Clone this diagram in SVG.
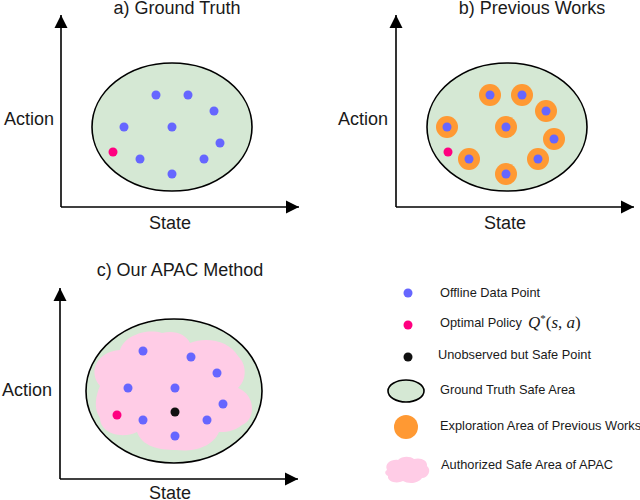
<svg xmlns="http://www.w3.org/2000/svg" width="640" height="500" viewBox="0 0 640 500">
<defs>
<style>
.t{font-family:"Liberation Sans",Arial,sans-serif;font-size:18px;fill:#1a1a1a}
.lg{font-family:"Liberation Sans",Arial,sans-serif;font-size:12.8px;fill:#1a1a1a}
.ax{stroke:#000;stroke-width:1.6;fill:none;marker-end:url(#ah)}
.gt{fill:#d5e8d4;stroke:#000;stroke-width:1.6}
.b{fill:#6666ff}
.r{fill:#ff0080}
.k{fill:#111}
.o{fill:#ff9933}
.p{fill:#ffcce6}
.m{font-family:"Liberation Serif","DejaVu Serif",serif;font-size:17px;fill:#1a1a1a}
</style>
<marker id="ah" markerUnits="userSpaceOnUse" markerWidth="14" markerHeight="14" refX="13" refY="6.5" orient="auto" viewBox="0 0 14 13">
<path d="M0,0 L13,6.5 L0,13 Z" fill="#000"/>
</marker>
</defs>

<g id="panel-a">
<text class="t" x="177" y="14" text-anchor="middle">a) Ground Truth</text>
<g id="axes-a">
<line class="ax" x1="61" y1="207" x2="61" y2="15"/>
<line class="ax" x1="61" y1="207" x2="299" y2="207"/>
</g>
<text class="t" x="29" y="125" text-anchor="middle">Action</text>
<text class="t" x="170" y="229" text-anchor="middle">State</text>
<ellipse class="gt" cx="172" cy="127" rx="80" ry="64"/>
<circle class="b" cx="156" cy="95" r="4.5"/>
<circle class="b" cx="188" cy="95" r="4.5"/>
<circle class="b" cx="214" cy="111" r="4.5"/>
<circle class="b" cx="124" cy="127" r="4.5"/>
<circle class="b" cx="172" cy="127" r="4.5"/>
<circle class="b" cx="220" cy="143" r="4.5"/>
<circle class="b" cx="140" cy="159" r="4.5"/>
<circle class="b" cx="204" cy="159" r="4.5"/>
<circle class="b" cx="172" cy="174" r="4.5"/>
<circle class="r" cx="113" cy="152" r="4.5"/>
</g>

<g id="panel-b">
<text class="t" x="532" y="14" text-anchor="middle">b) Previous Works</text>
<g id="axes-b">
<line class="ax" x1="396" y1="207" x2="396" y2="15"/>
<line class="ax" x1="396" y1="207" x2="634" y2="207"/>
</g>
<text class="t" x="363" y="125" text-anchor="middle">Action</text>
<text class="t" x="505" y="229" text-anchor="middle">State</text>
<ellipse class="gt" cx="507" cy="127" rx="80" ry="64"/>
<g class="o">
<circle cx="490" cy="95" r="11"/>
<circle cx="522" cy="95" r="11"/>
<circle cx="546" cy="111" r="11"/>
<circle cx="447" cy="127" r="11"/>
<circle cx="506" cy="127" r="11"/>
<circle cx="554" cy="139" r="11"/>
<circle cx="469" cy="159" r="11"/>
<circle cx="538" cy="159" r="11"/>
<circle cx="506" cy="174" r="11"/>
</g>
<circle class="b" cx="490" cy="95" r="4.5"/>
<circle class="b" cx="522" cy="95" r="4.5"/>
<circle class="b" cx="546" cy="111" r="4.5"/>
<circle class="b" cx="447" cy="127" r="4.5"/>
<circle class="b" cx="506" cy="127" r="4.5"/>
<circle class="b" cx="554" cy="139" r="4.5"/>
<circle class="b" cx="469" cy="159" r="4.5"/>
<circle class="b" cx="538" cy="159" r="4.5"/>
<circle class="b" cx="506" cy="174" r="4.5"/>
<circle class="r" cx="448" cy="152" r="4.5"/>
</g>

<g id="panel-c">
<text class="t" x="180" y="276" text-anchor="middle">c) Our APAC Method</text>
<g id="axes-c">
<line class="ax" x1="60" y1="479" x2="60" y2="288"/>
<line class="ax" x1="60" y1="479" x2="298" y2="479"/>
</g>
<text class="t" x="27" y="396" text-anchor="middle">Action</text>
<text class="t" x="170" y="499" text-anchor="middle">State</text>
<ellipse class="gt" cx="174" cy="391" rx="88" ry="72"/>
<path class="p" d="M100,386 C88,372 96,352 120,350 C124,336 146,328 162,333 C176,330 186,335 190,343 C206,336 230,341 238,356 C248,366 246,381 238,388 C256,395 256,420 242,425 C234,432 224,432 219,432 C212,448 192,452 176,450 C158,450 142,446 137,432 C120,440 100,432 100,418 C93,408 96,395 100,386 Z"/>
<circle class="b" cx="143" cy="351" r="4.5"/>
<circle class="b" cx="191" cy="357" r="4.5"/>
<circle class="b" cx="217" cy="373" r="4.5"/>
<circle class="b" cx="128" cy="388" r="4.5"/>
<circle class="b" cx="175" cy="388" r="4.5"/>
<circle class="b" cx="223" cy="404" r="4.5"/>
<circle class="b" cx="143" cy="420" r="4.5"/>
<circle class="b" cx="207" cy="420" r="4.5"/>
<circle class="b" cx="175" cy="436" r="4.5"/>
<circle class="k" cx="175" cy="412" r="4.5"/>
<circle class="r" cx="117" cy="415" r="4.5"/>
</g>

<g id="legend">
<g id="lg-offline"><circle class="b" cx="408" cy="293" r="4.5"/><text class="lg" x="440" y="297">Offline Data Point</text></g>
<g id="lg-optimal"><circle class="r" cx="408" cy="325" r="4.5"/><text class="lg" x="440" y="327">Optimal Policy</text>
<text class="m" x="528" y="328"><tspan font-style="italic">Q</tspan><tspan font-size="11" dy="-6">*</tspan><tspan dy="6">(</tspan><tspan font-style="italic">s</tspan>, <tspan font-style="italic">a</tspan>)</text></g>
<g id="lg-unobs"><circle class="k" cx="408" cy="357" r="4.5"/><text class="lg" x="438" y="359">Unobserved but Safe Point</text></g>
<g id="lg-gt"><ellipse class="gt" cx="406" cy="391" rx="18" ry="11"/><text class="lg" x="440" y="394">Ground Truth Safe Area</text></g>
<g id="lg-expl"><circle class="o" cx="406" cy="427" r="12"/><text class="lg" x="440" y="430">Exploration Area of Previous Works</text></g>
<g id="lg-auth"><path class="p" d="M387,470 C384,463 392,459 398,460 C402,456 410,456 414,459 C420,457 428,460 427,466 C432,470 428,478 422,478 C418,484 408,484 403,481 C397,484 387,482 388,476 C384,474 385,471 387,470 Z"/><text class="lg" x="441" y="469">Authorized Safe Area of APAC</text></g>
</g>
</svg>
